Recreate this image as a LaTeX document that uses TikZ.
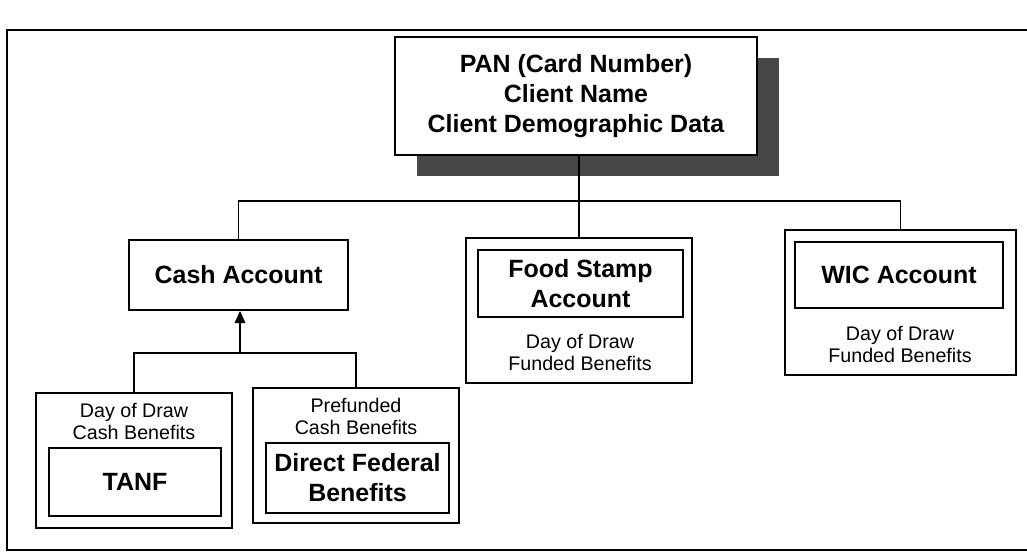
\documentclass[tikz,border=0pt]{standalone}
\usepackage{fontspec}
\setmainfont{Liberation Sans}
\usetikzlibrary{arrows.meta,shadows}

\begin{document}
\begin{tikzpicture}[x=0.02cm, y=-0.02cm, line width=1pt,
  box/.style={draw, fill=white, inner sep=0pt, align=center},
  big/.style={font=\fontsize{14.2}{17}\selectfont\bfseries},
  small/.style={align=center, font=\fontsize{11.2}{13}\selectfont}]
\useasboundingbox (0,0) rectangle (1027,560);
% frame round the whole chart
\draw (1027,30) -| (7,550) -- (1027,550);

\node[box, big, minimum width=7.24cm, minimum height=2.36cm,
  drop shadow={shadow xshift=0.44cm, shadow yshift=-0.42cm, fill=black!72, opacity=1}]
  (pan) at (576,96) {PAN (Card Number)\\Client Name\\Client Demographic Data};

\node[box, big, minimum width=4.38cm, minimum height=1.40cm] (cash) at (238.5,275) {Cash Account};

\node[box, minimum width=4.52cm, minimum height=2.90cm] (food) at (579,310.5) {};
\node[box, big, minimum width=4.10cm, minimum height=1.34cm] (foodin) at (580.5,283.5) {Food Stamp\\Account};
\node[small] (foodtxt) at (580,352.5) {Day of Draw\\Funded Benefits};

\node[box, minimum width=4.62cm, minimum height=2.90cm] (wic) at (900.5,302.5) {};
\node[box, big, minimum width=4.16cm, minimum height=1.32cm] (wicin) at (899,275) {WIC Account};
\node[small] (wictxt) at (900,344.5) {Day of Draw\\Funded Benefits};

\node[box, minimum width=3.92cm, minimum height=2.70cm] (tanf) at (134,460.5) {};
\node[small] (tanftxt) at (134,421.5) {Day of Draw\\Cash Benefits};
\node[box, big, minimum width=3.44cm, minimum height=1.36cm] (tanfin) at (135,482) {TANF};

\node[box, minimum width=4.12cm, minimum height=2.70cm] (pref) at (356,455.5) {};
\node[small] (preftxt) at (356,416.5) {Prefunded\\Cash Benefits};
\node[box, big, minimum width=3.66cm, minimum height=1.40cm] (prefin) at (357.5,478) {Direct Federal\\Benefits};

% connectors
\coordinate (bus) at (0,201);
\coordinate (join) at (240,353);
\draw (pan.south -| food.north) -- (food.north);
\draw (cash.north) |- (bus -| wic.north) -- (wic.north);
\draw (tanf.north) |- (join) -| (pref.north);
\draw[-{Triangle[length=7pt,width=6pt]}] (join) -- (join |- cash.south);
\end{tikzpicture}
\end{document}
